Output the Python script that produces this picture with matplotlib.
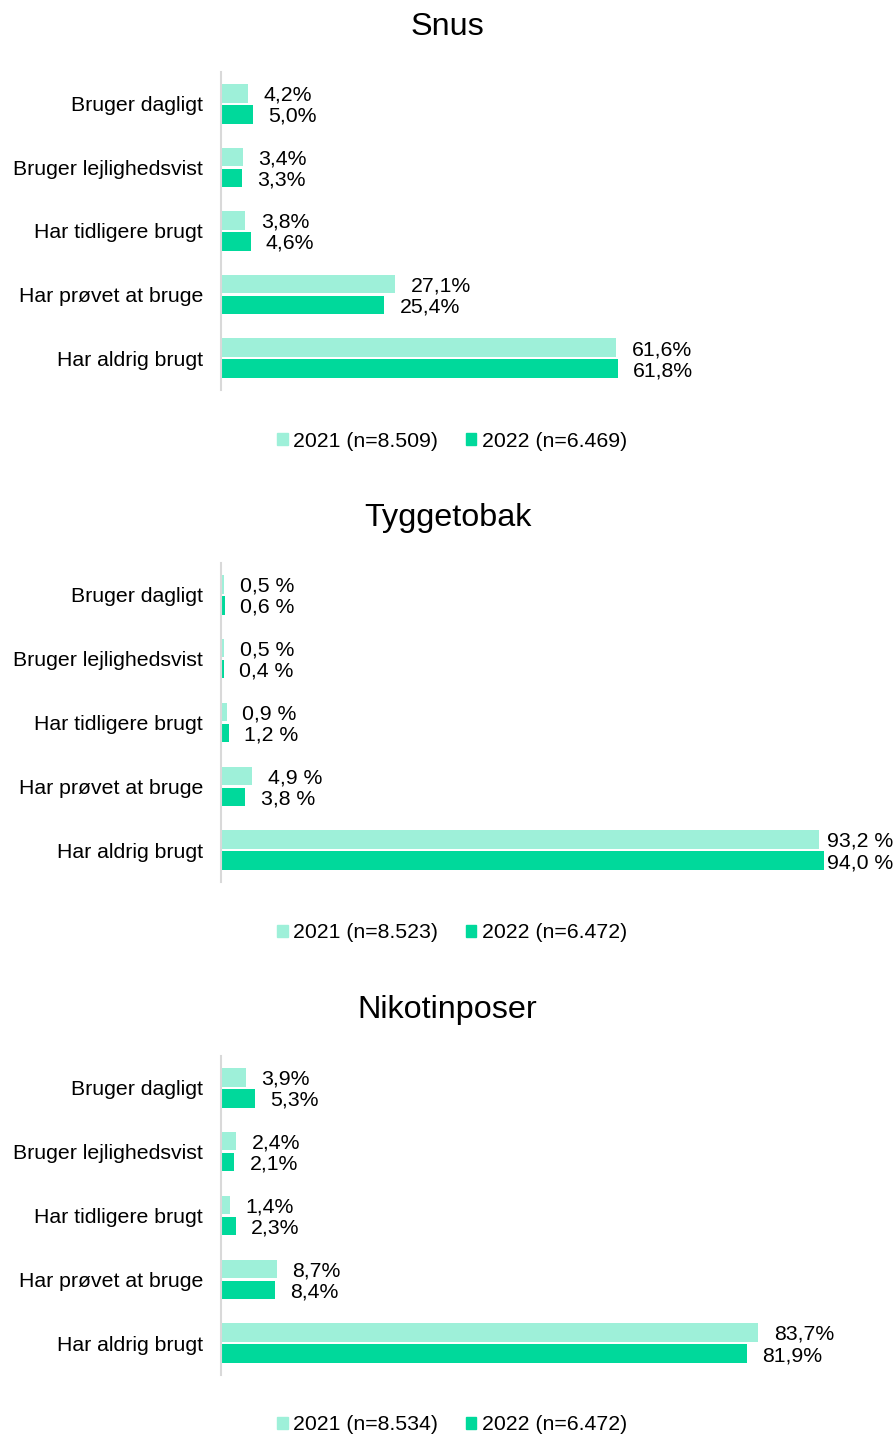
import matplotlib
matplotlib.use("Agg")
import matplotlib.pyplot as plt
from matplotlib.patches import Patch

plt.rcParams['font.family'] = ['Liberation Sans', 'DejaVu Sans']

# Data
categories = ["Bruger dagligt", "Bruger lejlighedsvist", "Har tidligere brugt",
              "Har prøvet at bruge", "Har aldrig brugt"]
titles = ["Snus", "Tyggetobak", "Nikotinposer"]

snus_2021 = [4.2, 3.4, 3.8, 27.1, 61.6]
snus_2022 = [5.0, 3.3, 4.6, 25.4, 61.8]
tygge_2021 = [0.5, 0.5, 0.9, 4.9, 93.2]
tygge_2022 = [0.6, 0.4, 1.2, 3.8, 94.0]
nikotin_2021 = [3.9, 2.4, 1.4, 8.7, 83.7]
nikotin_2022 = [5.3, 2.1, 2.3, 8.4, 81.9]

legend_2021 = ["2021 (n=8.509)", "2021 (n=8.523)", "2021 (n=8.534)"]
legend_2022 = ["2022 (n=6.469)", "2022 (n=6.472)", "2022 (n=6.472)"]
pct_suffix = ["%", " %", "%"]

series = [(snus_2021, snus_2022), (tygge_2021, tygge_2022), (nikotin_2021, nikotin_2022)]

c21 = "#9EF0D9"
c22 = "#00D99B"
fs = 15.3

fig = plt.figure(figsize=(8.95, 14.35), dpi=100)

H = 1435
axes_px = [(72, 390), (563, 882), (1056, 1375)]
title_base_px = [35, 526, 1018]
legend_px = [441, 933, 1425]


def fmt(v, suffix):
    return f"{v:.1f}".replace(".", ",") + suffix


for k in range(3):
    top, bot = axes_px[k]
    ax = fig.add_axes([221 / 895, 1 - bot / H, 642 / 895, (bot - top) / H])
    v21, v22 = series[k]
    ys = range(len(categories))
    off = 0.165
    h = 0.29
    ax.barh([y - off for y in ys], v21, height=h, color=c21)
    ax.barh([y + off for y in ys], v22, height=h, color=c22)
    for y, a, b in zip(ys, v21, v22):
        # labels kept inside the figure for very long bars
        ax.text(min(a + 2.4, 94.4), y - off + 0.03, fmt(a, pct_suffix[k]),
                va="center", ha="left", fontsize=fs)
        ax.text(min(b + 2.4, 94.4), y + off + 0.03, fmt(b, pct_suffix[k]),
                va="center", ha="left", fontsize=fs)
    ax.set_xlim(0, 100)
    ax.set_ylim(-0.5, 4.5)
    ax.invert_yaxis()
    ax.set_yticks(list(ys))
    ax.set_yticklabels(categories, fontsize=fs)
    ax.tick_params(axis="y", length=0, pad=13)
    ax.set_xticks([])
    for s in ["top", "right", "bottom"]:
        ax.spines[s].set_visible(False)
    ax.spines["left"].set_color("#D9D9D9")
    ax.spines["left"].set_linewidth(1.5)

    fig.text(0.5, 1 - title_base_px[k] / H, titles[k], ha="center", va="baseline", fontsize=23.3)

    handles = [Patch(color=c21, label=legend_2021[k]), Patch(color=c22, label=legend_2022[k])]
    fig.legend(handles=handles, loc="center", bbox_to_anchor=(0.505, 1 - legend_px[k] / H),
               ncol=2, frameon=False, fontsize=fs, handlelength=0.5, handleheight=0.5,
               handletextpad=0.25, columnspacing=1.3)

fig.savefig("out.png", dpi=100)
